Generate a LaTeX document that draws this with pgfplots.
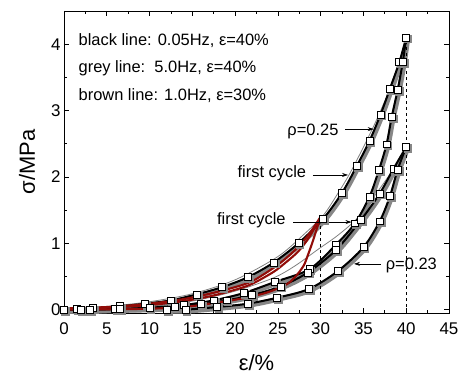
\documentclass[border=0pt]{standalone}
\usepackage{fontspec}
\setmainfont{Liberation Sans}
\usepackage{pgfplots}
\usepackage{pgfplotstable}
\pgfplotsset{compat=1.18}
\usetikzlibrary{arrows.meta}
\definecolor{brownline}{RGB}{145,12,8}
\definecolor{greyband}{RGB}{135,135,135}

\pgfplotstableread{
x y
0 0.0
1.5 0.01
3.4 0.02
6.5 0.05
9.5 0.09
12.5 0.14
15.5 0.23
18.5 0.34
21.5 0.49
24.5 0.71
27.4 1.00
30.3 1.37
32.5 1.76
34.2 2.16
35.7 2.54
37.0 2.94
38.1 3.33
39.2 3.73
40 4.10
}\LoadA
\pgfplotstableread{
x y
40 4.10
39.6 3.73
39.0 3.31
38.3 2.90
37.7 2.49
36.8 2.10
35.7 1.70
34.0 1.30
31.8 0.98
28.7 0.61
24.7 0.42
21.0 0.25
17.5 0.14
14.0 0.07
10.0 0.03
6.0 0.01
2.0 0.0
0 0.0
}\UnloadA
\pgfplotstableread{
x y
0 0.0
3 0.0
6.5 0.01
10 0.02
13 0.04
16 0.08
19 0.14
22 0.22
25.3 0.35
28.5 0.56
31.8 0.90
34.7 1.35
36.9 1.75
38.5 2.12
40 2.45
}\LoadB
\pgfplotstableread{
x y
40 2.45
39.0 2.11
38.1 1.71
36.9 1.33
35.0 0.94
32.0 0.58
28.6 0.31
24.9 0.18
21.5 0.09
17.9 0.04
14.2 0.0
12 0.0
}\UnloadB

\pgfplotsset{
  greyb/.style={greyband, line width=5pt, smooth, mark=square*, mark size=3.8pt,
           mark options={fill=greyband, draw=greyband, line width=0.5pt},
           xshift=1.4pt, yshift=-1.4pt},
  blackm/.style={black, line width=2pt, smooth, mark=square*, mark size=3.5pt,
           mark options={fill=white, draw=black, line width=0.8pt}},
  brownl/.style={brownline, line width=2.1pt, smooth},
}

\begin{document}
\begin{tikzpicture}
\path[use as bounding box] (-64bp,-62bp) rectangle (397bp,313bp);
\begin{axis}[
  at={(0,0)}, anchor=south west,
  scale only axis, width=385bp, height=302bp,
  xmin=0, xmax=45, ymin=-0.05, ymax=4.5,
  xtick={0,5,...,45}, ytick={0,1,2,3,4},
  minor x tick num=1, minor y tick num=1,
  tick align=inside, xtick pos=both, ytick pos=both,
  xticklabel pos=lower, yticklabel pos=left,
  major tick length=5bp, minor tick length=3bp,
  tick style={black, line width=0.7pt},
  axis line style={line width=0.9pt},
  /pgf/number format/assume math mode=true,
  ticklabel style={font=\fontsize{17}{20}\selectfont},
  xticklabel style={yshift=-6bp},
  xlabel={ε/\%}, ylabel={σ/MPa},
  label style={font=\fontsize{22}{26}\selectfont},
  xlabel style={at={(axis description cs:0.5,-0.163)}, anchor=center},
  ylabel style={at={(axis description cs:-0.096,0.5)}, anchor=center, rotate=0},
  clip=false,
]
% grey 5 Hz bands
\addplot[greyb] table {\LoadA};
\addplot[greyb] table {\UnloadA};
\addplot[greyb] table {\LoadB};
\addplot[greyb] table {\UnloadB};
% thin grey first cycles
\addplot[gray, line width=0.8pt, smooth] coordinates {(0,0.02)(5,0.05)(10,0.12)(15,0.24)(20,0.45)(25,0.8)(28,1.13)(30.3,1.42)(32,1.75)(33.4,2.05)(35,2.45)(36.5,2.85)(38,3.3)(39.2,3.72)(40,4.1)};
\addplot[gray, line width=0.8pt, smooth] coordinates {(0,0.0)(10,0.05)(15,0.13)(20,0.28)(24.5,0.48)(27,0.66)(29.6,0.9)(32,1.12)(34.3,1.38)(36.5,1.75)(38.5,2.12)(40,2.45)};
% black 0.05 Hz
\addplot[blackm] table {\LoadA};
\addplot[blackm] table {\UnloadA};
\addplot[blackm] table {\LoadB};
\addplot[blackm] table {\UnloadB};
% brown 1.0 Hz
\addplot[brownl] coordinates {(0,0.02)(5,0.04)(10,0.09)(14,0.16)(17,0.24)(20,0.34)(22,0.43)(24.5,0.63)(26,0.78)(27.4,0.95)(28.7,1.15)(30,1.4)};
\addplot[brownl] coordinates {(0,0.01)(5,0.03)(10,0.07)(14,0.13)(17,0.2)(20,0.3)(22,0.39)(24.5,0.57)(26,0.72)(27.4,0.88)(28.7,1.1)(30,1.4)};
\addplot[brownl] coordinates {(30,1.4)(29.5,1.2)(29,1.0)(28.5,0.82)(28,0.66)(27,0.49)(26,0.38)(24,0.27)(22,0.2)(20,0.15)(17,0.09)(14,0.04)(10,0.015)(5,0.005)(0,0)};
% dashed verticals
\addplot[black, dashed, line width=0.6pt] coordinates {(30,-0.05)(30,1.37)};
\addplot[black, dashed, line width=0.6pt] coordinates {(40,-0.05)(40,4.1)};
% annotations
\begin{scope}[font=\fontsize{16.5}{19}\selectfont]
\node[anchor=west] at (axis cs:1.3,4.06) {black line: 0.05Hz, ε=40\%};
\node[anchor=west] at (axis cs:1.3,3.64) {grey line:\ \ 5.0Hz, ε=40\%};
\node[anchor=west] at (axis cs:1.3,3.22) {brown line: 1.0Hz, ε=30\%};
\node at (axis cs:29.1,2.69) {ρ=0.25};
\node at (axis cs:24.3,2.05) {first cycle};
\node at (axis cs:21.9,1.34) {first cycle};
\node at (axis cs:40.6,0.66) {ρ=0.23};
\end{scope}
\draw[-{Stealth[length=6pt,width=4pt]}, line width=0.6pt] (axis cs:32.9,2.72) -- (axis cs:36.2,2.72);
\draw[-{Stealth[length=6pt,width=4pt]}, line width=0.6pt] (axis cs:29.1,2.03) -- (axis cs:33.2,2.03);
\draw[-{Stealth[length=6pt,width=4pt]}, line width=0.6pt] (axis cs:26.8,1.32) -- (axis cs:33.6,1.32);
\draw[-{Stealth[length=6pt,width=4pt]}, line width=0.6pt] (axis cs:37.0,0.69) -- (axis cs:33.9,0.69);
\end{axis}
\end{tikzpicture}
\end{document}
